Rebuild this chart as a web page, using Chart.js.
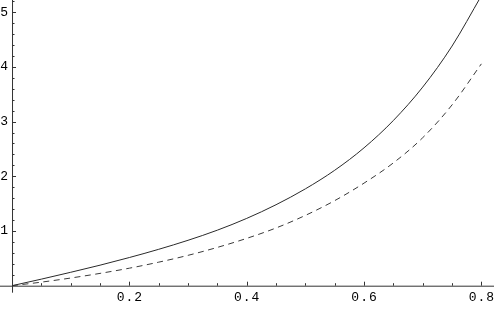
<!DOCTYPE html>
<html>
<head>
<meta charset="utf-8">
<script src="https://cdn.jsdelivr.net/npm/chart.js@4/dist/chart.umd.min.js"></script>
<style>
  html, body { margin: 0; padding: 0; background: #fff; }
  #wrap { width: 494px; height: 309px; }
</style>
</head>
<body>
<div id="wrap"><canvas id="plot"></canvas></div>
<script>
// values
var xs     = [0, 0.05, 0.1, 0.15, 0.2, 0.25, 0.3, 0.35, 0.4, 0.45, 0.5, 0.55, 0.6, 0.65, 0.7, 0.75, 0.8];
var solid  = [0, 0.12, 0.245, 0.375, 0.515, 0.665, 0.83, 1.015, 1.23, 1.48, 1.77, 2.11, 2.52, 3.02, 3.63, 4.38, 5.30];
var dashed = [0, 0.065, 0.14, 0.225, 0.32, 0.43, 0.555, 0.70, 0.865, 1.055, 1.285, 1.555, 1.875, 2.245, 2.705, 3.305, 4.055];

var xTicks = [0.2, 0.4, 0.6, 0.8];
var yTicks = [1, 2, 3, 4, 5];

function pts(ys) {
  return xs.map(function (x, i) { return { x: x, y: ys[i] }; });
}

var axesPlugin = {
  id: 'mathAxes',
  beforeDatasetsDraw: function (chart) {
    var c = chart.ctx;
    var sx = chart.scales.x, sy = chart.scales.y;
    var x0 = sx.getPixelForValue(0), y0 = sy.getPixelForValue(0);
    c.save();
    c.strokeStyle = '#333';
    c.lineWidth = 1;
    c.beginPath();
    c.moveTo(0, y0 + 0.5); c.lineTo(chart.width, y0 + 0.5);
    c.moveTo(x0 + 0.5, 0); c.lineTo(x0 + 0.5, y0 + 7);
    // x ticks, minor every 0.05
    for (var k = 1; k <= 16; k++) {
      var px = Math.round(sx.getPixelForValue(k * 0.05)) + 0.5;
      var len = (k % 4 === 0) ? 4 : 2.5;
      c.moveTo(px, y0); c.lineTo(px, y0 - len);
    }
    // y ticks, minor every 0.2
    for (var j = 1; j <= 26; j++) {
      var py = Math.round(sy.getPixelForValue(j * 0.2)) + 0.5;
      var ln = (j % 5 === 0) ? 4 : 2.5;
      c.moveTo(x0, py); c.lineTo(x0 + ln, py);
    }
    c.stroke();

    c.fillStyle = '#000';
    c.font = '13px "Liberation Mono", "DejaVu Sans Mono", monospace';
    c.letterSpacing = '1px';
    c.textAlign = 'center';
    c.textBaseline = 'middle';
    xTicks.forEach(function (t) {
      c.fillText(t.toFixed(1), sx.getPixelForValue(t) + 0.5, y0 + 12);
    });
    c.letterSpacing = '0px';
    c.textAlign = 'right';
    yTicks.forEach(function (t) {
      c.fillText(String(t), x0 - 4, sy.getPixelForValue(t));
    });
    c.restore();
  }
};

new Chart(document.getElementById('plot'), {
  type: 'line',
  data: {
    datasets: [{
      data: pts(solid),
      borderColor: '#2a2a2a',
      borderWidth: 1,
      pointRadius: 0,
      cubicInterpolationMode: 'monotone',
      fill: false
    }, {
      data: pts(dashed),
      borderColor: '#3a3a3a',
      borderWidth: 1,
      borderDash: [6, 4.5],
      pointRadius: 0,
      cubicInterpolationMode: 'monotone',
      fill: false
    }]
  },
  options: {
    responsive: true,
    maintainAspectRatio: false,
    animation: false,
    layout: { padding: 0 },
    plugins: { legend: { display: false }, tooltip: { enabled: false } },
    scales: {
      x: { type: 'linear', display: false, min: -0.0205, max: 0.8215 },
      y: { type: 'linear', display: false, min: -0.426, max: 5.222 }
    }
  },
  plugins: [axesPlugin]
});
</script>
</body>
</html>
